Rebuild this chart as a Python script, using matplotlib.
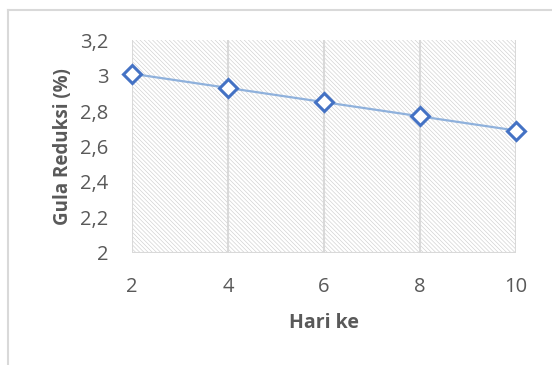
import matplotlib
matplotlib.use("Agg")
import matplotlib.pyplot as plt
from matplotlib.patches import Rectangle
from matplotlib.lines import Line2D

hari = [2, 4, 6, 8, 10]
gula_reduksi = [3.01, 2.93, 2.85, 2.77, 2.69]
y_ticks = [2.0, 2.2, 2.4, 2.6, 2.8, 3.0, 3.2]
y_tick_labels = ["2", "2,2", "2,4", "2,6", "2,8", "3", "3,2"]

plt.rcParams["font.family"] = ["Open Sans", "DejaVu Sans"]
plt.rcParams["hatch.linewidth"] = 0.45
plt.rcParams["hatch.color"] = "#cfcfcf"

W, H = 552, 365
fig = plt.figure(figsize=(W / 100, H / 100), dpi=100)

# outer chart frame (top and left edges visible)
fig.add_artist(Line2D([8 / W, 1.0], [1 - 10 / H, 1 - 10 / H], color="#d9d9d9", lw=1.5))
fig.add_artist(Line2D([8 / W, 8 / W], [0.0, 1 - 10 / H], color="#d9d9d9", lw=1.5))

ax = fig.add_axes([132 / W, (H - 253) / H, (516 - 132) / W, (253 - 40) / H])
ax.set_xlim(2, 10)
ax.set_ylim(2, 3.2)

# hatched plot area
ax.add_patch(Rectangle((2, 2), 8, 1.2, facecolor="white", edgecolor="#cfcfcf",
                       hatch="\\" * 8, lw=0, zorder=0))

for s in ax.spines.values():
    s.set_visible(False)
ax.axhline(2, color="#d9d9d9", lw=1.5, zorder=1)
for x in hari:
    ax.axvline(x, color="#d9d9d9", lw=1.5, zorder=1)

ax.plot(hari, gula_reduksi, color="#8fb1dc", lw=1.6, zorder=3)
ax.plot(hari, gula_reduksi, ls="none", marker="D", ms=9, mfc="white",
        mec="#4472c4", mew=2.2, zorder=4, clip_on=False)

ax.set_xticks(hari)
ax.set_xticklabels([str(h) for h in hari])
ax.set_yticks(y_ticks)
ax.set_yticklabels(y_tick_labels)
ax.tick_params(length=0, labelsize=14.5, colors="#595959")
ax.tick_params(axis="x", pad=17)
ax.tick_params(axis="y", pad=17)

ax.set_xlabel("Hari ke", fontsize=14, fontweight="bold", color="#595959", labelpad=12)
ax.set_ylabel("Gula Reduksi (%)", fontsize=13.5, fontweight="bold", color="#595959", labelpad=5)

fig.savefig("out.png", dpi=100)
